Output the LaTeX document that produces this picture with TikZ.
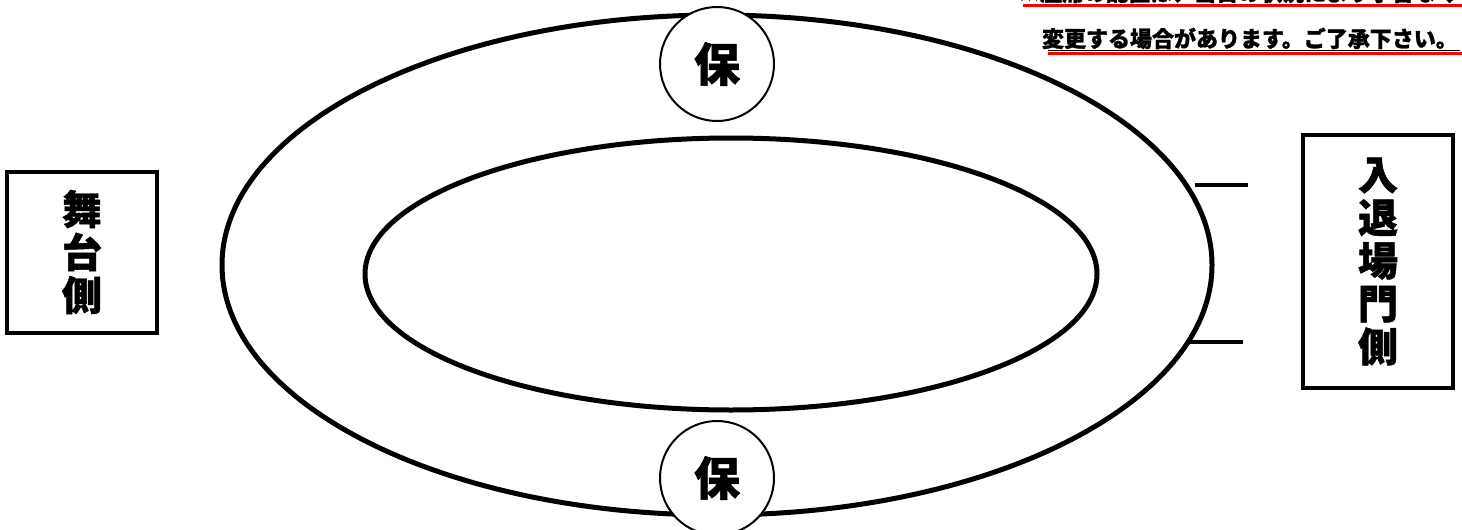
\documentclass[tikz,border=0pt]{standalone}
\usepackage{fontspec}
\newfontfamily\cjk[BoldFeatures={FakeBold=1.2}]{Noto Sans CJK JP}
\begin{document}
\begin{tikzpicture}[x=1pt,y=-1pt,
  ring/.style={draw=black,line width=5pt},
  hocircle/.style={circle,draw=black,line width=2pt,fill=white,minimum size=114pt,inner sep=0pt,font=\cjk\bfseries\fontsize{46}{46}\selectfont},
  sidebox/.style={draw=black,line width=4pt,fill=white,inner sep=0pt,align=center,font=\cjk\bfseries\fontsize{40}{43}\selectfont},
  gate/.style={draw=black,line width=4pt},
  note/.style={inner sep=0pt,anchor=base east,font=\cjk\bfseries\fontsize{22}{22}\selectfont},
  redline/.style={draw=red,line width=3pt},
  blackline/.style={draw=black,line width=1pt}]
\useasboundingbox (0,0) rectangle (1462,530);
% rings
\draw[ring] (717,265) ellipse [x radius=495, y radius=250];
\draw[ring] (731,274) ellipse [x radius=366, y radius=136];
% 保 circles
\node[hocircle] (htop) at (717,64) {保};
\node[hocircle] (hbot) at (717,478) {保};
% side boxes
\node[sidebox,minimum width=150pt,minimum height=161pt] (stage) at (82,252) {舞\\台\\側};
\node[sidebox,minimum width=150pt,minimum height=253pt] (gatebox) at (1378,261.5) {入\\退\\場\\門\\側};
% gate lines
\coordinate (g1a) at (1195,185); \coordinate (g1b) at (1248,185);
\coordinate (g2a) at (1188,342); \coordinate (g2b) at (1243,342);
\draw[gate] (g1a) -- (g1b);
\draw[gate] (g2a) -- (g2b);
% note text
\node[note] (note1) at (1458,1) {※座席の配置は、当日の状況により予告なく};
\node[note] (note2) at (1458,47) {変更する場合があります。ご了承下さい。};
\coordinate (b2a) at (1048,50.5); \coordinate (b2b) at (1460,50.5);
\draw[blackline] (b2a) -- (b2b);
\coordinate (r1a) at (1023,5); \coordinate (r1b) at (1462,5);
\coordinate (r2a) at (1048,53); \coordinate (r2b) at (1462,53);
\draw[redline] (r1a) -- (r1b);
\draw[redline] (r2a) -- (r2b);
\end{tikzpicture}
\end{document}
